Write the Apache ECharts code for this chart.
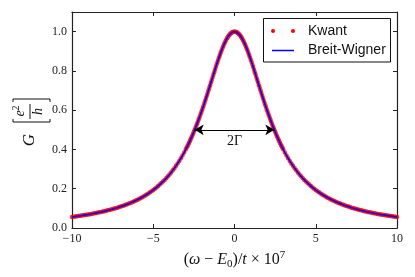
<!DOCTYPE html>
<html><head><meta charset="utf-8">
<script src="https://cdn.jsdelivr.net/npm/echarts@6/dist/echarts.min.js"></script>
<style>html,body{margin:0;padding:0;background:#fff}#c{width:415px;height:277px}</style>
</head><body><div id="c"></div>
<script>
// ---- data ----
const kwantE = [
-10,-9.9,-9.8,-9.7,-9.6,-9.5,-9.4,-9.3,-9.2,-9.1,
-9,-8.9,-8.8,-8.7,-8.6,-8.5,-8.4,-8.3,-8.2,-8.1,
-8,-7.9,-7.8,-7.7,-7.6,-7.5,-7.4,-7.3,-7.2,-7.1,
-7,-6.9,-6.8,-6.7,-6.6,-6.5,-6.4,-6.3,-6.2,-6.1,
-6,-5.9,-5.8,-5.7,-5.6,-5.5,-5.4,-5.3,-5.2,-5.1,
-5,-4.9,-4.8,-4.7,-4.6,-4.5,-4.4,-4.3,-4.2,-4.1,
-4,-3.9,-3.8,-3.7,-3.6,-3.5,-3.4,-3.3,-3.2,-3.1,
-3,-2.95,-2.9,-2.85,-2.8,-2.75,-2.7,-2.65,-2.6,-2.55,
-2.5,-2.45,-2.4,-2.35,-2.3,-2.25,-2.2,-2.15,-2.1,-2.05,
-2,-1.95,-1.9,-1.85,-1.8,-1.75,-1.7,-1.65,-1.6,-1.55,
-1.5,-1.45,-1.4,-1.35,-1.3,-1.25,-1.2,-1.15,-1.1,-1.05,
-1,-0.95,-0.9,-0.85,-0.8,-0.75,-0.7,-0.65,-0.6,-0.55,
-0.5,-0.45,-0.4,-0.35,-0.3,-0.25,-0.2,-0.15,-0.1,-0.05,
0,
0.05,0.1,0.15,0.2,0.25,0.3,0.35,0.4,0.45,0.5,
0.55,0.6,0.65,0.7,0.75,0.8,0.85,0.9,0.95,1,
1.05,1.1,1.15,1.2,1.25,1.3,1.35,1.4,1.45,1.5,
1.55,1.6,1.65,1.7,1.75,1.8,1.85,1.9,1.95,2,
2.05,2.1,2.15,2.2,2.25,2.3,2.35,2.4,2.45,2.5,
2.55,2.6,2.65,2.7,2.75,2.8,2.85,2.9,2.95,3,
3.1,3.2,3.3,3.4,3.5,3.6,3.7,3.8,3.9,4,
4.1,4.2,4.3,4.4,4.5,4.6,4.7,4.8,4.9,5,
5.1,5.2,5.3,5.4,5.5,5.6,5.7,5.8,5.9,6,
6.1,6.2,6.3,6.4,6.5,6.6,6.7,6.8,6.9,7,
7.1,7.2,7.3,7.4,7.5,7.6,7.7,7.8,7.9,8,
8.1,8.2,8.3,8.4,8.5,8.6,8.7,8.8,8.9,9,
9.1,9.2,9.3,9.4,9.5,9.6,9.7,9.8,9.9,10
];
const kwantG = [
0.0566,0.0577,0.0588,0.0599,0.0611,0.0623,0.0636,0.0649,0.0662,0.0676,
0.0690,0.0704,0.0719,0.0734,0.0750,0.0767,0.0784,0.0801,0.0819,0.0838,
0.0857,0.0877,0.0898,0.0919,0.0941,0.0964,0.0987,0.1012,0.1037,0.1064,
0.1091,0.1119,0.1149,0.1179,0.1211,0.1244,0.1278,0.1313,0.1350,0.1389,
0.1429,0.1470,0.1514,0.1559,0.1606,0.1655,0.1706,0.1760,0.1816,0.1874,
0.1935,0.1999,0.2066,0.2136,0.2209,0.2286,0.2366,0.2450,0.2538,0.2630,
0.2727,0.2829,0.2935,0.3047,0.3165,0.3288,0.3417,0.3552,0.3695,0.3844,
0.4000,0.4081,0.4164,0.4249,0.4335,0.4424,0.4515,0.4607,0.4702,0.4799,
0.4898,0.4999,0.5102,0.5207,0.5314,0.5424,0.5535,0.5648,0.5764,0.5881,
0.6000,0.6121,0.6243,0.6368,0.6494,0.6621,0.6749,0.6879,0.7009,0.7141,
0.7273,0.7405,0.7538,0.7670,0.7802,0.7934,0.8065,0.8194,0.8322,0.8448,
0.8571,0.8692,0.8811,0.8925,0.9036,0.9143,0.9245,0.9342,0.9434,0.9520,
0.9600,0.9674,0.9740,0.9800,0.9852,0.9897,0.9934,0.9963,0.9983,0.9996,
1.0000,
0.9996,0.9983,0.9963,0.9934,0.9897,0.9852,0.9800,0.9740,0.9674,0.9600,
0.9520,0.9434,0.9342,0.9245,0.9143,0.9036,0.8925,0.8811,0.8692,0.8571,
0.8448,0.8322,0.8194,0.8065,0.7934,0.7802,0.7670,0.7538,0.7405,0.7273,
0.7141,0.7009,0.6879,0.6749,0.6621,0.6494,0.6368,0.6243,0.6121,0.6000,
0.5881,0.5764,0.5648,0.5535,0.5424,0.5314,0.5207,0.5102,0.4999,0.4898,
0.4799,0.4702,0.4607,0.4515,0.4424,0.4335,0.4249,0.4164,0.4081,0.4000,
0.3844,0.3695,0.3552,0.3417,0.3288,0.3165,0.3047,0.2935,0.2829,0.2727,
0.2630,0.2538,0.2450,0.2366,0.2286,0.2209,0.2136,0.2066,0.1999,0.1935,
0.1874,0.1816,0.1760,0.1706,0.1655,0.1606,0.1559,0.1514,0.1470,0.1429,
0.1389,0.1350,0.1313,0.1278,0.1244,0.1211,0.1179,0.1149,0.1119,0.1091,
0.1064,0.1037,0.1012,0.0987,0.0964,0.0941,0.0919,0.0898,0.0877,0.0857,
0.0838,0.0819,0.0801,0.0784,0.0767,0.0750,0.0734,0.0719,0.0704,0.0690,
0.0676,0.0662,0.0649,0.0636,0.0623,0.0611,0.0599,0.0588,0.0577,0.0566
];
// Breit-Wigner curve coincides with the Kwant points in the picture
const bwE = kwantE;
const bwG = kwantG;

const xTickValues = [-10, -5, 0, 5, 10];
const xTickLabels = ['\u221210', '\u22125', '0', '5', '10'];
const yTickValues = [0, 0.2, 0.4, 0.6, 0.8, 1.0];
const yTickLabels = ['0.0', '0.2', '0.4', '0.6', '0.8', '1.0'];
const widthLevel = 0.5;     // half maximum
const halfWidth = 2.45;     // Γ read at half maximum
const seriesNames = ['Kwant', 'Breit-Wigner'];

// ---- chart ----
const SERIF = '"Liberation Serif","DejaVu Serif",serif';
const SANS = '"Liberation Sans","DejaVu Sans",sans-serif';
const zip = (a, b) => a.map((v, i) => [v, b[i]]);
const lab = (vals, labs) => v => { const i = vals.findIndex(t => Math.abs(t - v) < 1e-9); return i < 0 ? '' : labs[i]; };

const axisLineStyle = { color: '#222', width: 1.2 };
function xAx(pos, showLabel) {
  return {
    type: 'value', position: pos, min: -10, max: 10, interval: 5,
    axisLine: { show: true, onZero: false, lineStyle: axisLineStyle },
    axisTick: { show: true, inside: true, length: 4, customValues: xTickValues, lineStyle: { color: '#222', width: 1 } },
    axisLabel: { show: showLabel, customValues: xTickValues, formatter: lab(xTickValues, xTickLabels), margin: 5, fontFamily: SERIF, fontSize: 12, color: '#222' },
    splitLine: { show: false }
  };
}
function yAx(pos, showLabel) {
  return {
    type: 'value', position: pos, min: 0, max: 1.1, interval: 0.2,
    axisLine: { show: true, onZero: false, lineStyle: axisLineStyle },
    axisTick: { show: true, inside: true, length: 4, customValues: yTickValues, lineStyle: { color: '#222', width: 1 } },
    axisLabel: { show: showLabel, customValues: yTickValues, formatter: lab(yTickValues, yTickLabels), margin: 5, fontFamily: SERIF, fontSize: 12, color: '#222' },
    splitLine: { show: false }
  };
}

const xA0 = xAx('bottom', true);
xA0.name = '({i|\u03c9} \u2212 {i|E}{sub|0})/{i|t} \u00d7 10{sup|7}';
xA0.nameLocation = 'middle';
xA0.nameGap = 17;
xA0.nameTextStyle = {
  fontFamily: SERIF, fontSize: 16, color: '#111', lineHeight: 20, verticalAlign: 'top',
  rich: {
    i: { fontFamily: SERIF, fontStyle: 'italic', fontSize: 16, color: '#111', lineHeight: 20 },
    sub: { fontFamily: SERIF, fontSize: 11, color: '#111', lineHeight: 11, verticalAlign: 'bottom' },
    sup: { fontFamily: SERIF, fontSize: 11, color: '#111', lineHeight: 11, verticalAlign: 'top' }
  }
};

const option = {
  animation: false,
  backgroundColor: '#fff',
  grid: { left: 72, right: 18, top: 12, bottom: 49 },
  xAxis: [xA0, xAx('top', false)],
  yAxis: [yAx('left', true), yAx('right', false)],
  series: [
    {
      name: seriesNames[0], type: 'scatter', data: zip(kwantE, kwantG),
      symbol: 'circle', symbolSize: 4.5, itemStyle: { color: '#ff0000' }, z: 2
    },
    {
      name: seriesNames[1], type: 'line', data: zip(bwE, bwG),
      showSymbol: false, symbol: 'none', lineStyle: { color: '#0000ff', width: 1.5 }, z: 3,
      markLine: {
        silent: true, symbol: ['arrow', 'arrow'], symbolSize: [8, 9],
        lineStyle: { color: '#000', width: 1.2, type: 'solid' },
        label: { show: true, position: 'insideMiddleBottom', distance: 5, formatter: '2\u0393', fontFamily: SERIF, fontSize: 14, color: '#111' },
        data: [[{ coord: [-halfWidth, widthLevel] }, { coord: [halfWidth, widthLevel] }]]
      }
    }
  ],
  graphic: [
    // y axis label: G [e^2 / h]
    {
      type: 'group', x: 30, y: 110, rotation: Math.PI / 2,
      children: [
        { type: 'text', x: -30, y: 0, style: { text: 'G', font: 'italic 17px ' + SERIF, fill: '#111', align: 'center', verticalAlign: 'middle' } },
        { type: 'text', x: -1, y: -11, style: { text: '{e|e}{s|2}', fill: '#111', align: 'center', verticalAlign: 'middle',
            rich: { e: { font: 'italic 14px ' + SERIF, fill: '#111', lineHeight: 16, verticalAlign: 'bottom' }, s: { font: '10px ' + SERIF, fill: '#111', lineHeight: 10, verticalAlign: 'top' } } } },
        { type: 'line', shape: { x1: -9, y1: 0, x2: 6, y2: 0 }, style: { stroke: '#111', lineWidth: 1 } },
        { type: 'text', x: -1.5, y: 8, style: { text: 'h', font: 'italic 14px ' + SERIF, fill: '#111', align: 'center', verticalAlign: 'middle' } },
        { type: 'polyline', shape: { points: [[-9, -17], [-12, -17], [-12, 20], [-9, 20]] }, style: { stroke: '#111', lineWidth: 1, fill: null } },
        { type: 'polyline', shape: { points: [[8, -17], [11, -17], [11, 20], [8, 20]] }, style: { stroke: '#111', lineWidth: 1, fill: null } }
      ]
    },
    // legend box
    { type: 'rect', shape: { x: 263.5, y: 18.5, width: 127, height: 43.5 }, style: { fill: '#fff', stroke: '#111', lineWidth: 1 }, z: 10 },
    { type: 'circle', shape: { cx: 273, cy: 31, r: 2 }, style: { fill: '#ff0000' }, z: 11 },
    { type: 'circle', shape: { cx: 293, cy: 31, r: 2 }, style: { fill: '#ff0000' }, z: 11 },
    { type: 'text', x: 308, y: 31, style: { text: seriesNames[0], font: '14px ' + SANS, fill: '#111', verticalAlign: 'middle' }, z: 11 },
    { type: 'line', shape: { x1: 272, y1: 50.5, x2: 294, y2: 50.5 }, style: { stroke: '#0000ff', lineWidth: 1.5 }, z: 11 },
    { type: 'text', x: 308, y: 50.5, style: { text: seriesNames[1], font: '14px ' + SANS, fill: '#111', verticalAlign: 'middle' }, z: 11 }
  ]
};
const chart = echarts.init(document.getElementById('c'), null, { renderer: 'canvas' });
chart.setOption(option);
</script></body></html>
